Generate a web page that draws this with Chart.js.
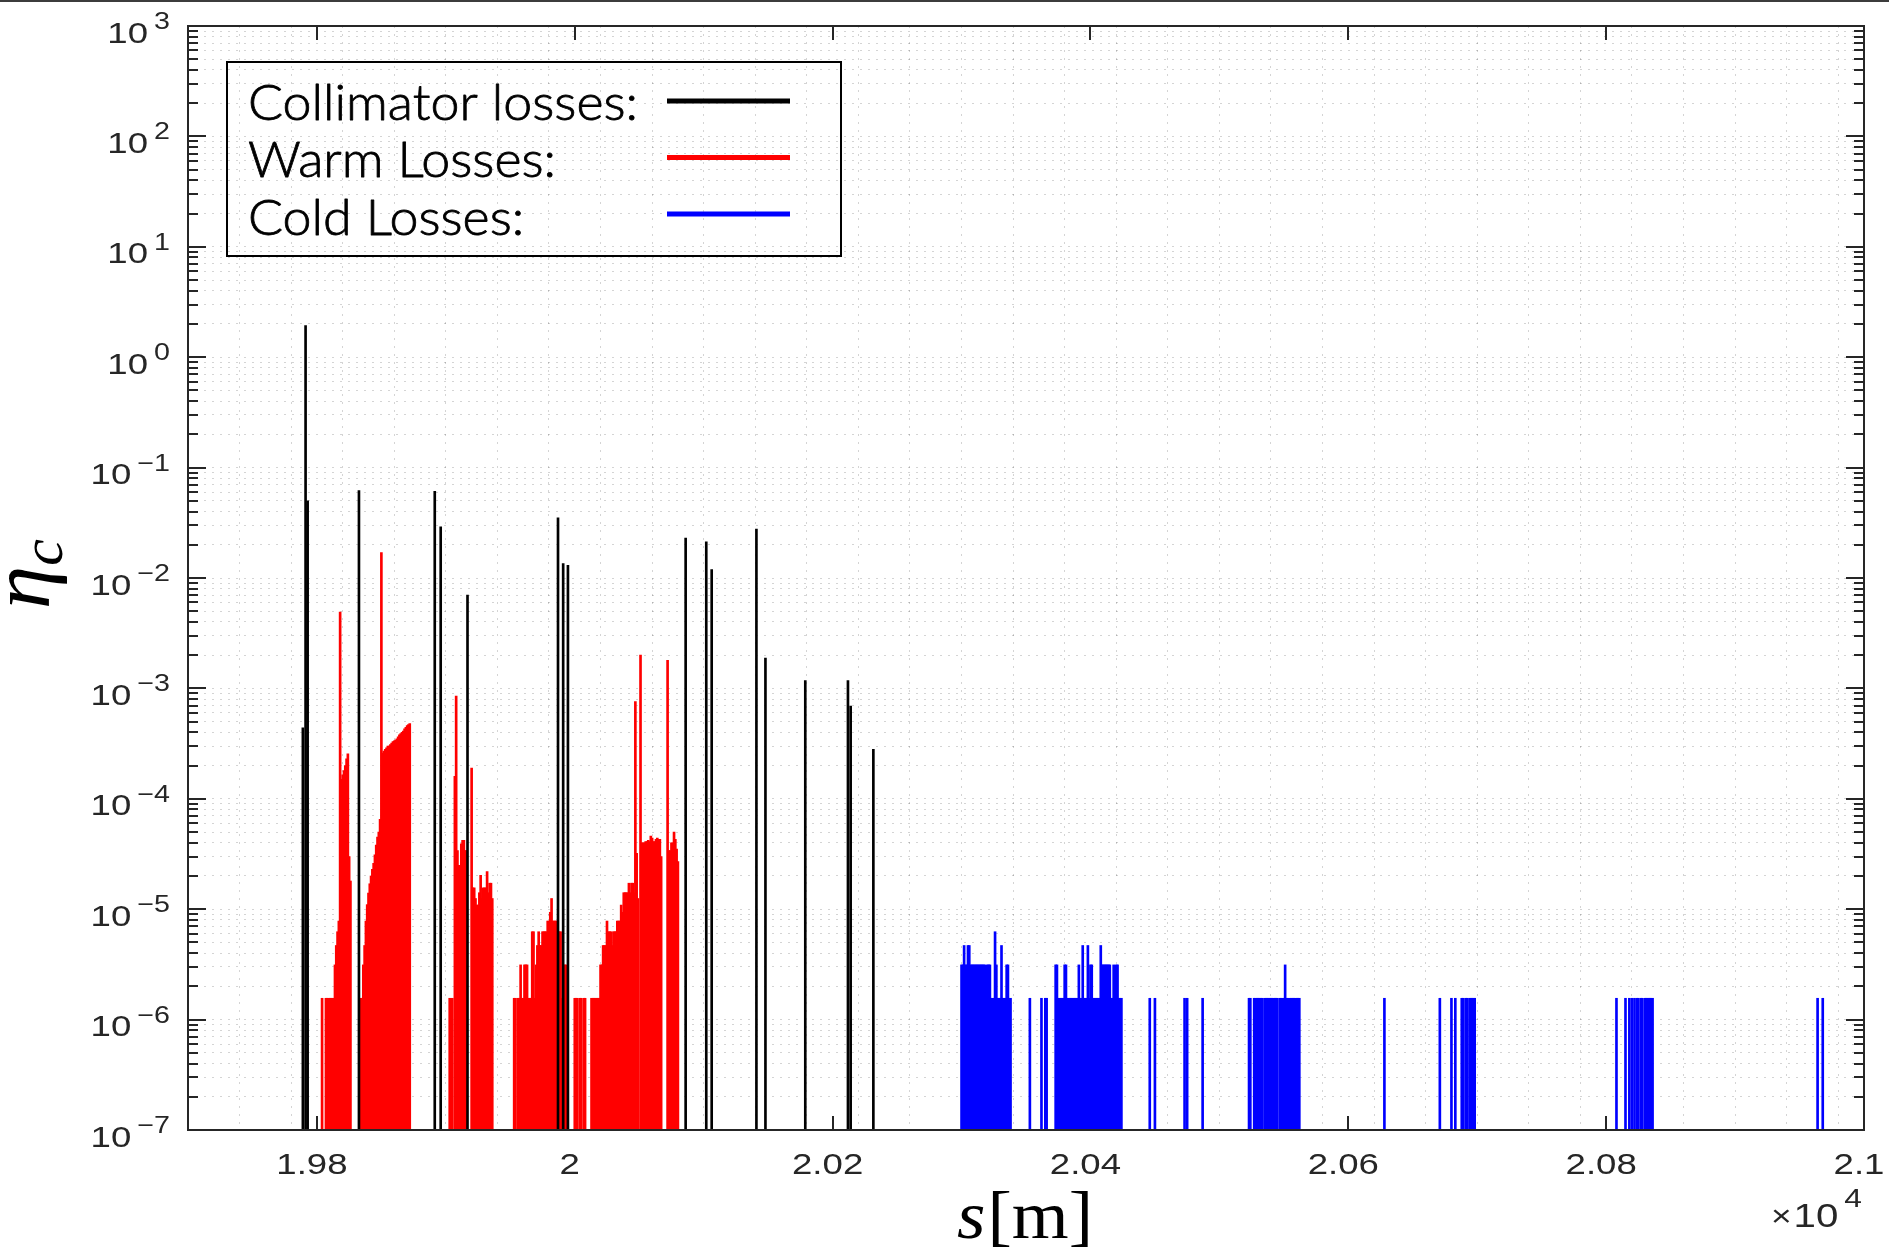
<!DOCTYPE html>
<html>
<head>
<meta charset="utf-8">
<title>Collimation loss map</title>
<script src="https://cdn.jsdelivr.net/npm/chart.js@4.4.1/dist/chart.umd.min.js"></script>
<style>
  html, body { margin: 0; padding: 0; background: #ffffff; overflow: hidden; }
  canvas { display: block; }
</style>
</head>
<body>
<canvas id="lossmap" width="1889" height="1250"></canvas>
<script>
// ---- Data: local cleaning inefficiency eta_c versus longitudinal position s [m] ----

// Collimator losses (black)
const collimatorS = [19789.1, 19791.2, 19792.8, 19832.6, 19891.4, 19896.0, 19916.8, 19987.0, 19991.0,
  19994.7, 20086.0, 20102.0, 20106.2, 20140.9, 20147.9, 20178.8, 20211.9, 20214.0, 20231.6];
const collimatorEta = [4.4e-4, 1.93, 5.0e-2, 6.2e-2, 6.1e-2, 2.9e-2, 7.0e-3, 3.5e-2, 1.35e-2,
  1.3e-2, 2.3e-2, 2.13e-2, 1.19e-2, 2.78e-2, 1.88e-3, 1.18e-3, 1.18e-3, 6.9e-4, 2.8e-4];

// Warm losses (red), 1 m bins
const warmS = [
  19804, 19807, 19808, 19809, 19810, 19811, 19812, 19813, 19814, 19815, 19816, 19817, 19818, 19819,
  19820, 19821, 19822, 19823, 19824, 19825, 19826,
  19834, 19835, 19836, 19837, 19838, 19839, 19840, 19841, 19842, 19843, 19844, 19845, 19846, 19847,
  19848, 19849, 19850, 19851, 19852, 19853, 19854, 19855, 19856, 19857, 19858, 19859, 19860, 19861,
  19862, 19863, 19864, 19865, 19866, 19867, 19868, 19869, 19870, 19871, 19872,
  19903, 19905, 19907, 19908, 19909, 19910, 19911, 19912, 19913, 19914, 19915, 19916,
  19920, 19921, 19922, 19923, 19924, 19925, 19926, 19927, 19928, 19929, 19930, 19931, 19932, 19933,
  19934, 19935, 19936,
  19953, 19954, 19956, 19957, 19958, 19959, 19960, 19961, 19962, 19963, 19964, 19965, 19966, 19967,
  19968, 19969, 19970, 19971, 19972, 19973, 19974, 19975, 19976, 19977, 19978, 19979, 19980, 19981,
  19982, 19983, 19984, 19985, 19986, 19987, 19988, 19989, 19990, 19991, 19992, 19993, 19994,
  20000, 20001, 20002, 20004, 20005, 20007, 20008,
  20013, 20014, 20015, 20016, 20017, 20018, 20019, 20020, 20021, 20022, 20023, 20024, 20025, 20026,
  20027, 20028, 20029, 20030, 20031, 20032, 20033, 20034, 20035, 20036, 20037, 20038, 20039, 20040,
  20041, 20042, 20043, 20044, 20045, 20046, 20047, 20048, 20049,
  20051, 20052, 20053, 20054, 20055, 20056, 20057, 20058, 20059, 20060, 20061, 20062, 20063, 20064,
  20065, 20066, 20067,
  20072, 20073, 20074, 20075, 20076, 20077, 20078, 20079, 20080
];
const warmEta = [
  1.56e-6, 1.56e-6, 1.56e-6, 1.56e-6, 1.56e-6, 1.56e-6, 1.56e-6, 1.56e-6, 3.13e-6, 4.69e-6, 6.25e-6, 7.81e-6, 4.9e-3, 1.5e-4,
  1.65e-4, 1.8e-4, 2.0e-4, 2.3e-4, 2.55e-4, 3.0e-5, 1.8e-5,
  1.56e-6, 1.56e-6, 3.13e-6, 4.69e-6, 7.81e-6, 1.1e-5, 1.4e-5, 1.7e-5, 2.0e-5, 2.3e-5, 2.6e-5, 3.1e-5, 3.8e-5, 4.5e-5,
  5.0e-5, 6.5e-5, 1.7e-2, 2.6e-4, 2.7e-4, 2.8e-4, 2.9e-4, 3.0e-4, 3.0e-4, 3.1e-4, 3.2e-4, 3.3e-4, 3.35e-4, 3.4e-4,
  3.5e-4, 3.65e-4, 3.8e-4, 3.9e-4, 4.0e-4, 4.1e-4, 4.3e-4, 4.45e-4, 4.6e-4, 4.7e-4, 4.8e-4,
  1.56e-6, 1.56e-6, 1.6e-4, 8.5e-4, 3.4e-5, 2.5e-5, 2.5e-5, 3.9e-5, 4.2e-5, 4.2e-5, 3.4e-5, 3.4e-5,
  1.9e-4, 1.56e-5, 1.56e-5, 1.25e-5, 1.09e-5, 1.09e-5, 1.41e-5, 2.03e-5, 1.25e-5, 1.56e-5, 1.56e-5, 1.56e-5, 2.19e-5, 1.41e-5,
  1.72e-5, 1.72e-5, 1.25e-5,
  1.56e-6, 1.56e-6, 1.56e-6, 1.56e-6, 3.13e-6, 1.56e-6, 1.56e-6, 3.13e-6, 3.13e-6, 3.13e-6, 1.56e-6, 1.56e-6, 1.56e-6, 6.25e-6,
  6.25e-6, 1.56e-6, 3.13e-6, 4.69e-6, 6.25e-6, 4.69e-6, 4.69e-6, 6.25e-6, 6.25e-6, 6.25e-6, 6.25e-6, 7.81e-6, 7.81e-6, 9.38e-6,
  1.25e-5, 7.81e-6, 7.81e-6, 7.81e-6, 7.81e-6, 6.25e-6, 6.25e-6, 6.25e-6, 1.56e-6, 1.56e-6, 3.13e-6, 3.13e-6, 1.56e-6,
  1.56e-6, 1.56e-6, 1.56e-6, 1.56e-6, 1.56e-6, 1.56e-6, 1.56e-6,
  1.56e-6, 1.56e-6, 1.56e-6, 1.56e-6, 1.56e-6, 1.56e-6, 1.56e-6, 3.13e-6, 3.13e-6, 4.69e-6, 4.69e-6, 4.69e-6, 7.81e-6, 6.25e-6,
  6.25e-6, 6.25e-6, 4.69e-6, 6.25e-6, 6.25e-6, 6.25e-6, 7.81e-6, 7.81e-6, 7.81e-6, 1.09e-5, 9.38e-6, 1.41e-5, 1.41e-5, 1.41e-5,
  1.41e-5, 1.72e-5, 1.41e-5, 1.72e-5, 1.72e-5, 1.41e-5, 7.6e-4, 3.2e-5, 1.25e-5,
  2.0e-3, 4.0e-5, 4.0e-5, 4.0e-5, 4.1e-5, 4.1e-5, 4.2e-5, 4.1e-5, 4.6e-5, 4.4e-5, 4.1e-5, 4.1e-5, 4.3e-5, 4.4e-5,
  4.3e-5, 4.3e-5, 3.0e-5,
  1.8e-3, 3.4e-5, 3.4e-5, 4.0e-5, 4.0e-5, 5.0e-5, 4.3e-5, 3.5e-5, 2.7e-5
];

// Cold losses (blue), 1 m bins
const coldS = [
  20300, 20301, 20302, 20303, 20304, 20305, 20306, 20307, 20308, 20309, 20310, 20311, 20312, 20313,
  20314, 20315, 20316, 20317, 20318, 20319, 20320, 20321, 20322, 20323, 20324, 20325, 20326, 20327,
  20328, 20329, 20330, 20331, 20332, 20333, 20334, 20335, 20336, 20337, 20338,
  20353, 20362, 20365, 20366,
  20373, 20374, 20375, 20376, 20377, 20378, 20379, 20380, 20381, 20382, 20383, 20384, 20385, 20386,
  20387, 20388, 20389, 20390, 20391, 20392, 20393, 20394, 20395, 20396, 20397, 20398, 20399, 20400,
  20401, 20402, 20403, 20404, 20405, 20406, 20407, 20408, 20409, 20410, 20411, 20412, 20413, 20414,
  20415, 20416, 20417, 20418, 20419, 20420, 20421, 20422, 20423, 20424,
  20446, 20450, 20473, 20475, 20487,
  20523, 20524, 20527, 20528, 20529, 20530, 20531, 20532, 20533, 20535, 20536, 20537, 20538, 20539,
  20540, 20541, 20542, 20543, 20544, 20545, 20547, 20548, 20549, 20550, 20551, 20552, 20553, 20555,
  20556, 20557, 20558, 20559, 20560, 20561, 20562,
  20628, 20671, 20680, 20683, 20688, 20689, 20691, 20692, 20694, 20695, 20696, 20697, 20698,
  20808, 20815, 20818, 20820, 20822, 20824, 20825, 20827, 20828, 20830, 20831, 20832, 20833, 20834,
  20835, 20836,
  20964, 20968
];
const coldEta = [
  3.13e-6, 3.13e-6, 4.69e-6, 3.13e-6, 3.13e-6, 4.69e-6, 4.69e-6, 3.13e-6, 3.13e-6, 3.13e-6, 3.13e-6, 3.13e-6, 3.13e-6, 3.13e-6,
  3.13e-6, 3.13e-6, 3.13e-6, 3.13e-6, 3.13e-6, 1.56e-6, 3.13e-6, 3.13e-6, 3.13e-6, 1.56e-6, 1.56e-6, 1.56e-6, 6.25e-6, 3.13e-6,
  1.56e-6, 1.56e-6, 1.56e-6, 4.69e-6, 1.56e-6, 1.56e-6, 1.56e-6, 3.13e-6, 3.13e-6, 1.56e-6, 1.56e-6,
  1.56e-6, 1.56e-6, 1.56e-6, 1.56e-6,
  3.13e-6, 3.13e-6, 1.56e-6, 1.56e-6, 1.56e-6, 1.56e-6, 1.56e-6, 3.13e-6, 3.13e-6, 1.56e-6, 1.56e-6, 1.56e-6, 1.56e-6, 1.56e-6,
  1.56e-6, 1.56e-6, 1.56e-6, 1.56e-6, 3.13e-6, 1.56e-6, 1.56e-6, 4.69e-6, 1.56e-6, 1.56e-6, 1.56e-6, 4.69e-6, 1.56e-6, 3.13e-6,
  3.13e-6, 1.56e-6, 1.56e-6, 1.56e-6, 1.56e-6, 1.56e-6, 1.56e-6, 4.69e-6, 3.13e-6, 3.13e-6, 3.13e-6, 3.13e-6, 3.13e-6, 3.13e-6,
  3.13e-6, 1.56e-6, 1.56e-6, 3.13e-6, 1.56e-6, 3.13e-6, 3.13e-6, 1.56e-6, 1.56e-6, 1.56e-6,
  1.56e-6, 1.56e-6, 1.56e-6, 1.56e-6, 1.56e-6,
  1.56e-6, 1.56e-6, 1.56e-6, 1.56e-6, 1.56e-6, 1.56e-6, 1.56e-6, 1.56e-6, 1.56e-6, 1.56e-6, 1.56e-6, 1.56e-6, 1.56e-6, 1.56e-6,
  1.56e-6, 1.56e-6, 1.56e-6, 1.56e-6, 1.56e-6, 1.56e-6, 1.56e-6, 1.56e-6, 1.56e-6, 1.56e-6, 3.13e-6, 1.56e-6, 1.56e-6, 1.56e-6,
  1.56e-6, 1.56e-6, 1.56e-6, 1.56e-6, 1.56e-6, 1.56e-6, 1.56e-6,
  1.56e-6, 1.56e-6, 1.56e-6, 1.56e-6, 1.56e-6, 1.56e-6, 1.56e-6, 1.56e-6, 1.56e-6, 1.56e-6, 1.56e-6, 1.56e-6, 1.56e-6,
  1.56e-6, 1.56e-6, 1.56e-6, 1.56e-6, 1.56e-6, 1.56e-6, 1.56e-6, 1.56e-6, 1.56e-6, 1.56e-6, 1.56e-6, 1.56e-6, 1.56e-6, 1.56e-6,
  1.56e-6, 1.56e-6,
  1.56e-6, 1.56e-6
];

// Axes
const xRange = [19700, 21000];
const yRange = [1e-7, 1e3];
const xTickValues = [19800, 20000, 20200, 20400, 20600, 20800, 21000];
const xTickLabels = ['1.98', '2', '2.02', '2.04', '2.06', '2.08', '2.1'];
const xGridStep = 40;
const yTickExponents = [-7, -6, -5, -4, -3, -2, -1, 0, 1, 2, 3];
const legendLabels = ['Collimator losses:', 'Warm Losses:', 'Cold Losses:'];
const seriesColors = ['#000000', '#ff0000', '#0000ff'];

// ---- Styling ----
const AXIS_COLOR = '#262626';
const TEXT_STRETCH = 1.22;
const SANS = '"Liberation Sans", Arial, Helvetica, sans-serif';
const SERIF = '"Liberation Serif", "Times New Roman", "DejaVu Serif", serif';
const GRID_COLOR = 'rgba(0,0,0,0.17)';

const xGridValues = [];
for (let v = xRange[0] + xGridStep; v < xRange[1]; v += xGridStep) xGridValues.push(v);
const yGridValues = [];
for (let k = -7; k < 3; k++) {
  for (let m = 1; m <= 9; m++) {
    const v = m * Math.pow(10, k);
    if (v > yRange[0] * 1.0001) yGridValues.push(v);
  }
}

function drawText(ctx, text, x, y, align, font, sx, strokeW) {
  sx = sx || TEXT_STRETCH;
  ctx.save();
  ctx.font = font;
  const w = ctx.measureText(text).width * sx;
  let left = x;
  if (align === 'center') left = x - w / 2;
  else if (align === 'right') left = x - w;
  ctx.translate(left, y);
  ctx.scale(sx, 1);
  ctx.textAlign = 'left';
  ctx.textBaseline = 'alphabetic';
  ctx.fillText(text, 0, 0);
  if (strokeW) {
    ctx.strokeStyle = ctx.fillStyle;
    ctx.lineWidth = strokeW;
    ctx.lineJoin = 'round';
    ctx.strokeText(text, 0, 0);
  }
  ctx.restore();
  return w;
}

function textWidth(ctx, text, font) {
  ctx.save();
  ctx.font = font;
  const w = ctx.measureText(text).width;
  ctx.restore();
  return w;
}

function segment(ctx, x1, y1, x2, y2) {
  ctx.beginPath();
  ctx.moveTo(x1, y1);
  ctx.lineTo(x2, y2);
  ctx.stroke();
}

const axesDecor = {
  id: 'axesDecor',
  beforeDatasetsDraw(chart) {
    const ctx = chart.ctx;
    const { left, right, top, bottom } = chart.chartArea;
    const xs = chart.scales.x, ys = chart.scales.y;
    ctx.save();
    ctx.strokeStyle = AXIS_COLOR;
    ctx.lineWidth = 2;
    // x ticks, inward from bottom and top
    xTickValues.forEach(v => {
      const px = Math.round(xs.getPixelForValue(v));
      segment(ctx, px, bottom, px, bottom - 14);
      segment(ctx, px, top, px, top + 14);
    });
    // y ticks: decades long, 2..9 short, on both sides
    for (let k = -7; k <= 3; k++) {
      for (let m = 1; m <= 9; m++) {
        const v = m * Math.pow(10, k);
        if (v > yRange[1] * 1.0001) break;
        const py = Math.round(ys.getPixelForValue(v));
        const len = m === 1 ? 18 : 10;
        segment(ctx, left, py, left + len, py);
        segment(ctx, right, py, right - len, py);
      }
    }
    ctx.restore();
  },
  afterDatasetsDraw(chart) {
    const ctx = chart.ctx;
    const { left, right, top, bottom } = chart.chartArea;
    ctx.save();
    ctx.strokeStyle = AXIS_COLOR;
    ctx.lineWidth = 2;
    ctx.strokeRect(left, top, right - left, bottom - top);
    ctx.restore();
  },
  afterDraw(chart) {
    const ctx = chart.ctx;
    const xs = chart.scales.x, ys = chart.scales.y;
    const { right, bottom } = chart.chartArea;
    ctx.save();
    ctx.fillStyle = AXIS_COLOR;

    // x tick labels
    const tickFont = '30px ' + SANS;
    const supFont = '23.5px ' + SANS;
    xTickValues.forEach((v, i) => {
      drawText(ctx, xTickLabels[i], xs.getPixelForValue(v) - 5, bottom + 43.5, 'center', tickFont);
    });

    // y tick labels 10^k
    const labelRight = 170;
    yTickExponents.forEach(k => {
      const py = ys.getPixelForValue(Math.pow(10, k));
      const expText = k < 0 ? '\u2212' + Math.abs(k) : String(k);
      const expW = drawText(ctx, expText, labelRight, py + 3, 'right', supFont);
      drawText(ctx, '10', labelRight - expW - 6, py + 16.5, 'right', tickFont);
    });

    // axis exponent  x10^4
    const e4w = drawText(ctx, '4', right - 2, bottom + 77, 'right', '26px ' + SANS);
    const tenW = drawText(ctx, '10', right - 2 - e4w - 6, bottom + 97, 'right', '33px ' + SANS);
    drawText(ctx, '\u00d7', right - 2 - e4w - 6 - tenW - 2, bottom + 96, 'right', '29px ' + SANS);

    // x axis title  s[m]
    ctx.fillStyle = '#000000';
    const titleSize = 68;
    const fS = 'italic ' + titleSize + 'px ' + SERIF;
    const fR = titleSize + 'px ' + SERIF;
    const wS = textWidth(ctx, 's', fS), wB = textWidth(ctx, '[m]', fR);
    const titleScale = 134 / (wS + wB);
    const titleLeft = 1024 - (wS + wB) * titleScale / 2;
    drawText(ctx, 's', titleLeft, 1238, 'left', fS, titleScale);
    drawText(ctx, '[m]', titleLeft + wS * titleScale + 2, 1238, 'left', fR, titleScale);

    // y axis title  eta_c (rotated)
    const fEta = 'italic 74px ' + SERIF;
    const fSub = 'italic 52px ' + SERIF;
    const wEta = textWidth(ctx, '\u03b7', fEta), wC = textWidth(ctx, 'c', fSub);
    const along = 70 / (wEta + wC);
    ctx.save();
    ctx.translate(40, 574);
    ctx.scale(1.15, 1);
    ctx.rotate(-Math.PI / 2);
    ctx.scale(along, 1);
    ctx.textBaseline = 'alphabetic';
    ctx.textAlign = 'left';
    ctx.font = fEta;
    const x0 = -(wEta + wC) / 2;
    ctx.fillText('\u03b7', x0, 8);
    ctx.font = fSub;
    ctx.fillText('c', x0 + wEta, 19);
    ctx.restore();

    // legend: transparent box, label text then a line sample
    const box = { left: 227, top: 62, right: 841, bottom: 256 };
    ctx.strokeStyle = '#000000';
    ctx.lineWidth = 2;
    ctx.strokeRect(box.left, box.top, box.right - box.left, box.bottom - box.top);
    const legendFont = '300 50px Lato, "Open Sans", sans-serif';
    const legendScale = 390 / textWidth(ctx, legendLabels[0], legendFont);
    const baselines = [120, 177, 235];
    const lineYs = [101, 157.5, 214];
    legendLabels.forEach((label, i) => {
      ctx.fillStyle = '#000000';
      drawText(ctx, label, 248, baselines[i], 'left', legendFont, legendScale, 0.8);
      ctx.strokeStyle = seriesColors[i];
      ctx.lineWidth = 5;
      segment(ctx, 667, lineYs[i], 790, lineYs[i]);
    });

    // dark frame edge along the top of the figure
    ctx.fillStyle = '#3c3c3c';
    ctx.fillRect(0, 0, chart.width, 2);
    ctx.restore();
  }
};

const toPoints = (xs, ys) => xs.map((x, i) => ({ x: x, y: ys[i] }));

new Chart(document.getElementById('lossmap').getContext('2d'), {
  type: 'bar',
  data: {
    datasets: [
      { label: legendLabels[0], data: toPoints(collimatorS, collimatorEta), backgroundColor: seriesColors[0],
        barThickness: 2, grouped: false, base: yRange[0], order: 0 },
      { label: legendLabels[1], data: toPoints(warmS, warmEta), backgroundColor: seriesColors[1],
        barThickness: 2, grouped: false, base: yRange[0], order: 1 },
      { label: legendLabels[2], data: toPoints(coldS, coldEta), backgroundColor: seriesColors[2],
        barThickness: 2, grouped: false, base: yRange[0], order: 2 }
    ]
  },
  options: {
    responsive: false,
    animation: false,
    devicePixelRatio: 1,
    layout: { padding: { left: 188, top: 26, right: 25, bottom: 120 } },
    plugins: { legend: { display: false }, tooltip: { enabled: false } },
    scales: {
      x: {
        type: 'linear', min: xRange[0], max: xRange[1], offset: false, bounds: 'data',
        grid: { color: GRID_COLOR, lineWidth: 1, drawTicks: false, offset: false },
        border: { display: false, dash: [2, 6] },
        ticks: { display: false },
        afterBuildTicks: s => { s.ticks = xGridValues.map(v => ({ value: v })); },
        afterFit: s => { s.height = 0; }
      },
      y: {
        type: 'logarithmic', min: yRange[0], max: yRange[1], bounds: 'data',
        grid: { color: GRID_COLOR, lineWidth: 1, drawTicks: false },
        border: { display: false, dash: [2, 6] },
        ticks: { display: false },
        afterBuildTicks: s => { s.ticks = yGridValues.map(v => ({ value: v })); },
        afterFit: s => { s.width = 0; }
      }
    }
  },
  plugins: [axesDecor]
});
</script>
</body>
</html>
